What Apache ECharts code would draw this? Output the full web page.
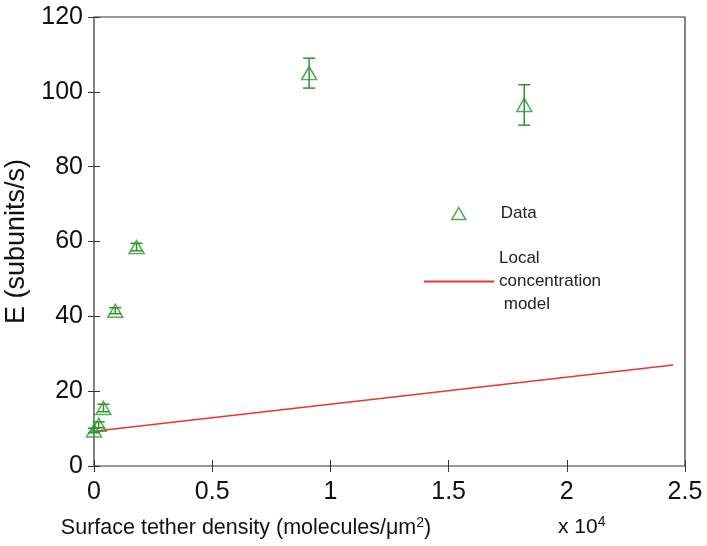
<!DOCTYPE html>
<html>
<head>
<meta charset="utf-8">
<script src="https://cdn.jsdelivr.net/npm/echarts@6/dist/echarts.min.js"></script>
<style>
  html, body { margin: 0; padding: 0; background: #fff; }
  #chart { width: 707px; height: 546px; }
</style>
</head>
<body>
<div id="chart"></div>
<script>
// tether density (x 10^4 molecules/um^2) and elongation rate
var densityX = [0.0, 0.02, 0.04, 0.09, 0.18, 0.91, 1.82];
var rateY = [9.5, 11, 15.5, 41.5, 58.5, 105, 96.5];
var rateErr = [0.6, 0.8, 1.0, 0.8, 1.0, 4.0, 5.4];

// local concentration model (straight line)
var modelX = [0, 2.45];
var modelY = [9.3, 27];

var xTicks = [0, 0.5, 1, 1.5, 2, 2.5];
var yTicks = [0, 20, 40, 60, 80, 100, 120];

var green = '#2a962a';
var red = '#ee3333';
var font = 'Liberation Sans, Arial, sans-serif';

var dataPoints = densityX.map(function (x, i) { return [x, rateY[i]]; });
var errData = densityX.map(function (x, i) { return [x, rateY[i] - rateErr[i], rateY[i] + rateErr[i]]; });
var modelData = modelX.map(function (x, i) { return [x, modelY[i]]; });

var chart = echarts.init(document.getElementById('chart'));

chart.setOption({
  backgroundColor: '#fff',
  animation: false,
  grid: {
    left: 94, right: 22, top: 17, bottom: 80,
    outerBoundsMode: 'none', containLabel: false,
    show: true, borderColor: '#333', borderWidth: 1.2, backgroundColor: 'transparent'
  },
  legend: [{
    left: 451, top: 205, padding: 0,
    itemWidth: 14, itemHeight: 12,
    data: [{ name: 'Data', icon: 'triangle', itemStyle: { color: 'transparent', borderColor: green, borderWidth: 1.5 } }],
    textStyle: { fontFamily: font, fontSize: 17, color: '#222', padding: [0, 0, 0, 30] },
    selectedMode: false
  }, {
    left: 424, top: 247, padding: 0,
    itemWidth: 70, itemHeight: 2,
    data: [{ name: 'model', icon: 'rect', itemStyle: { color: red } }],
    formatter: function () { return 'Local\nconcentration\n model'; },
    textStyle: { fontFamily: font, fontSize: 17, lineHeight: 23, color: '#222' },
    selectedMode: false
  }],
  xAxis: [{
    type: 'value', min: xTicks[0], max: xTicks[xTicks.length - 1], interval: 0.5,
    position: 'bottom',
    name: 'Surface tether density (molecules/μm{sup|2})',
    nameLocation: 'middle', nameGap: 50,
    nameTextStyle: {
      fontFamily: font, fontSize: 21.5, color: '#111', padding: [0, 287, 0, 0],
      rich: { sup: { fontFamily: font, fontSize: 14, color: '#111', verticalAlign: 'top', padding: [0, 0, 10, 0] } }
    },
    axisLine: { show: false },
    axisTick: { show: true, inside: true, length: 6, lineStyle: { color: '#333' } },
    axisLabel: { fontFamily: font, fontSize: 25, color: '#111', margin: 14 },
    splitLine: { show: false }
  }, {
    type: 'value', min: xTicks[0], max: xTicks[xTicks.length - 1], interval: 0.5,
    position: 'top',
    axisLine: { show: false },
    axisTick: { show: true, inside: true, length: 6, lineStyle: { color: '#333' } },
    axisLabel: { show: false },
    splitLine: { show: false }
  }],
  yAxis: [{
    type: 'value', min: yTicks[0], max: yTicks[yTicks.length - 1], interval: 20,
    position: 'left',
    name: 'E (subunits/s)',
    nameLocation: 'middle', nameGap: 55,
    nameTextStyle: { fontFamily: font, fontSize: 27, color: '#111' },
    axisLine: { show: false },
    axisTick: { show: true, inside: true, length: 6, lineStyle: { color: '#333' } },
    axisLabel: { fontFamily: font, fontSize: 25, color: '#111', margin: 11 },
    splitLine: { show: false }
  }, {
    type: 'value', min: yTicks[0], max: yTicks[yTicks.length - 1], interval: 20,
    position: 'right',
    axisLine: { show: false },
    axisTick: { show: true, inside: true, length: 6, lineStyle: { color: '#333' } },
    axisLabel: { show: false },
    splitLine: { show: false }
  }],
  graphic: [{
    type: 'text', left: 558, top: 515,
    style: {
      text: 'x 10{sup|4}',
      fontFamily: font, fontSize: 21, fill: '#111',
      rich: { sup: { fontFamily: font, fontSize: 14, fill: '#111', verticalAlign: 'top', padding: [0, 0, 10, 0] } }
    }
  }],
  series: [{
    name: 'model',
    type: 'line',
    data: modelData,
    symbol: 'none',
    lineStyle: { color: red, width: 1.5 },
    itemStyle: { color: red },
    z: 2
  }, {
    name: 'err',
    type: 'custom',
    data: errData,
    renderItem: function (params, api) {
      var x = api.value(0);
      var lo = api.coord([x, api.value(1)]);
      var hi = api.coord([x, api.value(2)]);
      var cap = 6;
      var st = { stroke: green, lineWidth: 1.5, fill: null };
      return {
        type: 'group',
        children: [
          { type: 'line', shape: { x1: lo[0], y1: lo[1], x2: hi[0], y2: hi[1] }, style: st },
          { type: 'line', shape: { x1: lo[0] - cap, y1: lo[1], x2: lo[0] + cap, y2: lo[1] }, style: st },
          { type: 'line', shape: { x1: hi[0] - cap, y1: hi[1], x2: hi[0] + cap, y2: hi[1] }, style: st }
        ]
      };
    },
    z: 3
  }, {
    name: 'Data',
    type: 'scatter',
    data: dataPoints,
    symbol: 'triangle',
    symbolSize: [15, 13],
    itemStyle: { color: 'transparent', borderColor: green, borderWidth: 1.5 },
    z: 4
  }]
});
</script>
</body>
</html>
